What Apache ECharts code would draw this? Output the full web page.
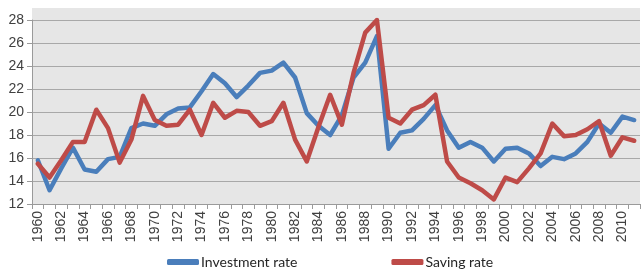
<!DOCTYPE html>
<html>
<head>
<meta charset="utf-8">
<script src="https://cdn.jsdelivr.net/npm/echarts@6/dist/echarts.min.js"></script>
<style>
html,body{margin:0;padding:0;background:#fff;}
#c{width:643px;height:274px;}
</style>
</head>
<body>
<div id="c"></div>
<script>
const years = [];
for (let y = 1960; y <= 2011; y++) years.push(String(y));

const investmentRate = [
  15.8, 13.2, 15.1, 16.9, 15.0, 14.8, 15.9, 16.1, 18.6, 19.0,
  18.8, 19.8, 20.3, 20.4, 21.8, 23.3, 22.5, 21.3, 22.3, 23.4,
  23.6, 24.3, 23.0, 19.9, 18.8, 18.0, 19.7, 23.0, 24.3, 26.6,
  16.8, 18.2, 18.4, 19.4, 20.6, 18.4, 16.9, 17.4, 16.9, 15.7,
  16.8, 16.9, 16.4, 15.3, 16.1, 15.9, 16.4, 17.4, 19.0, 18.2,
  19.6, 19.3
];

const savingRate = [
  15.5, 14.3, 15.8, 17.4, 17.4, 20.2, 18.6, 15.6, 17.6, 21.4,
  19.3, 18.8, 18.9, 20.2, 18.0, 20.8, 19.5, 20.1, 20.0, 18.8,
  19.2, 20.8, 17.6, 15.7, 18.7, 21.5, 18.9, 23.4, 26.9, 28.0,
  19.5, 19.0, 20.2, 20.6, 21.5, 15.7, 14.3, 13.8, 13.2, 12.4,
  14.3, 13.9, 15.1, 16.4, 19.0, 17.9, 18.0, 18.5, 19.2, 16.2,
  17.8, 17.5
];

const seriesNames = ['Investment rate', 'Saving rate'];

const chart = echarts.init(document.getElementById('c'), null, {renderer: 'canvas'});
chart.setOption({
  animation: false,
  backgroundColor: '#ffffff',
  graphic: [{
    type: 'rect',
    z: -100,
    shape: {x: 32, y: 8, width: 608, height: 196},
    style: {fill: '#e6e6e6'}
  }],
  grid: {left: 32, right: 3, top: 20, bottom: 70, containLabel: false},
  legend: {
    data: seriesNames,
    bottom: 0,
    left: 162,
    itemGap: 94,
    itemWidth: 32,
    itemHeight: 6,
    icon: 'roundRect',
    textStyle: {fontFamily: 'Lato', fontSize: 14, color: '#262626', padding: [0, 0, 0, -3]}
  },
  xAxis: {
    type: 'category',
    data: years,
    boundaryGap: true,
    axisLine: {lineStyle: {color: '#9a9a9a', width: 1}},
    axisTick: {show: true, interval: 0, length: 5, lineStyle: {color: '#9a9a9a'}},
    axisLabel: {
      interval: 1,
      rotate: 90,
      fontFamily: 'Liberation Sans',
      fontSize: 14,
      color: '#404040',
      margin: 7
    },
    splitLine: {show: false}
  },
  yAxis: {
    type: 'value',
    min: 12,
    max: 28,
    interval: 2,
    axisLine: {show: true, lineStyle: {color: '#9a9a9a', width: 1}},
    axisTick: {show: true, length: 5, lineStyle: {color: '#9a9a9a'}},
    axisLabel: {fontFamily: 'Liberation Sans', fontSize: 14, color: '#404040', margin: 8},
    splitLine: {show: true, lineStyle: {color: '#a8a8a8', width: 1}}
  },
  series: [
    {
      name: seriesNames[0],
      type: 'line',
      data: investmentRate,
      symbol: 'none',
      color: '#4a7ebb',
      lineStyle: {width: 4.5, color: '#4a7ebb', join: 'round', cap: 'round'}
    },
    {
      name: seriesNames[1],
      type: 'line',
      data: savingRate,
      symbol: 'none',
      color: '#be4b48',
      lineStyle: {width: 4.5, color: '#be4b48', join: 'round', cap: 'round'}
    }
  ]
});
</script>
</body>
</html>
